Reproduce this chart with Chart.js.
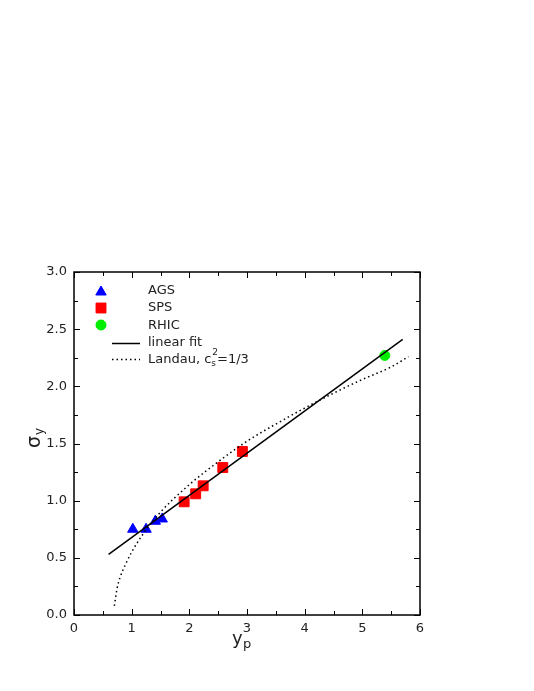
<!DOCTYPE html>
<html>
<head>
<meta charset="utf-8">
<script src="https://cdn.jsdelivr.net/npm/chart.js@4"></script>
<style>
  body { margin: 0; background: #fff; }
  #wrap { width: 534px; height: 691px; }
</style>
</head>
<body>
<div id="wrap"><canvas id="grafico"></canvas></div>
<script>
// data
const agsX = [1.02, 1.25, 1.41, 1.53];
const agsY = [0.75, 0.75, 0.82, 0.84];
const spsX = [1.91, 2.11, 2.24, 2.58, 2.92];
const spsY = [0.99, 1.06, 1.13, 1.29, 1.43];
const rhicX = [5.39];
const rhicY = [2.27];
const fitX = [0.6, 5.7];
const fitY = [0.53, 2.41];
const landauX = [0.7, 0.75, 0.8, 0.9, 1.0, 1.2, 1.5, 2.0, 2.5, 3.0, 3.5, 4.0, 4.5, 5.0, 5.5, 5.8];
const landauY = [0.08, 0.24, 0.33, 0.45, 0.55, 0.71, 0.90, 1.14, 1.34, 1.52, 1.67, 1.81, 1.94, 2.06, 2.17, 2.26];
const xTicks = [0, 1, 2, 3, 4, 5, 6];
const yTicks = [0.0, 0.5, 1.0, 1.5, 2.0, 2.5, 3.0];

const FONT = '"DejaVu Sans", sans-serif';
const pts = (xs, ys) => xs.map((x, i) => ({ x: x, y: ys[i] }));

// inward ticks on all four sides + frame, titles, legend
const frame = {
    id: 'frame',
    afterDraw(chart) {
        const ctx = chart.ctx;
        const a = chart.chartArea;
        const sx = chart.scales.x, sy = chart.scales.y;
        ctx.save();
        ctx.strokeStyle = '#000';
        ctx.lineWidth = 1.5;
        ctx.strokeRect(a.left, a.top, a.right - a.left, a.bottom - a.top);
        ctx.lineWidth = 1;
        ctx.beginPath();
        for (let v = 0; v <= 6.001; v += 0.5) {
            const p = Math.round(sx.getPixelForValue(v)) + 0.5;
            const len = (Math.abs(v - Math.round(v)) < 1e-6) ? 6 : 4;
            ctx.moveTo(p, a.bottom); ctx.lineTo(p, a.bottom - len);
            ctx.moveTo(p, a.top); ctx.lineTo(p, a.top + len);
        }
        for (let v = 0; v <= 3.001; v += 0.25) {
            const p = Math.round(sy.getPixelForValue(v)) + 0.5;
            const len = (Math.abs(v * 2 - Math.round(v * 2)) < 1e-6) ? 6 : 4;
            ctx.moveTo(a.left, p); ctx.lineTo(a.left + len, p);
            ctx.moveTo(a.right, p); ctx.lineTo(a.right - len, p);
        }
        ctx.stroke();

        // axis titles
        ctx.fillStyle = '#222';
        ctx.textBaseline = 'alphabetic';
        ctx.textAlign = 'left';
        ctx.font = '18px ' + FONT;
        ctx.fillText('y', 232, 644);
        ctx.font = '13px ' + FONT;
        ctx.fillText('p', 243, 648);
        ctx.save();
        ctx.translate(40, 448);
        ctx.rotate(-Math.PI / 2);
        ctx.font = '19px ' + FONT;
        ctx.fillText('σ', 0, 0);
        ctx.font = '12px ' + FONT;
        ctx.fillText('y', 13, 3);
        ctx.restore();

        // legend
        const H = Chart.helpers;
        const mk = (style, color, r, x, y) => {
            ctx.fillStyle = color; ctx.strokeStyle = color; ctx.lineWidth = 1;
            H.drawPoint(ctx, { pointStyle: style, radius: r, borderWidth: 1 }, x, y);
            ctx.fill();
        };
        mk('triangle', '#0000ff', 6, 101, 292);
        mk('rect', '#ff0000', 7, 101, 308);
        mk('circle', '#00ee00', 5, 101, 325);
        ctx.strokeStyle = '#000';
        ctx.lineWidth = 1.5;
        ctx.beginPath(); ctx.moveTo(112, 343.5); ctx.lineTo(140, 343.5); ctx.stroke();
        ctx.setLineDash([1.5, 3]);
        ctx.beginPath(); ctx.moveTo(112, 359.5); ctx.lineTo(140, 359.5); ctx.stroke();
        ctx.setLineDash([]);
        ctx.fillStyle = '#222';
        ctx.font = '13px ' + FONT;
        ctx.textBaseline = 'middle';
        ctx.fillText('AGS', 148, 291);
        ctx.fillText('SPS', 148, 308);
        ctx.fillText('RHIC', 148, 326);
        ctx.fillText('linear fit', 148, 343);
        let t = 'Landau, c';
        ctx.fillText(t, 148, 360);
        let w = 148 + ctx.measureText(t).width;
        ctx.font = '9px ' + FONT;
        ctx.fillText('s', w, 364);
        ctx.fillText('2', w + 1, 353);
        w += ctx.measureText('s').width + 1;
        ctx.font = '13px ' + FONT;
        ctx.fillText('=1/3', w, 360);
        ctx.restore();
    }
};

new Chart(document.getElementById('grafico'), {
    type: 'scatter',
    data: {
        datasets: [
            {
                label: 'linear fit', type: 'line', data: pts(fitX, fitY),
                borderColor: '#000', borderWidth: 1.5, pointRadius: 0, fill: false
            },
            {
                label: 'Landau', type: 'line', data: pts(landauX, landauY),
                borderColor: '#000', borderWidth: 1.5, borderDash: [1.5, 3], pointRadius: 0,
                cubicInterpolationMode: 'monotone', fill: false
            },
            {
                label: 'AGS', data: pts(agsX, agsY), pointStyle: 'triangle', pointRadius: 6,
                backgroundColor: '#0000ff', borderColor: '#0000ff', borderWidth: 1
            },
            {
                label: 'SPS', data: pts(spsX, spsY), pointStyle: 'rect', pointRadius: 7,
                backgroundColor: '#ff0000', borderColor: '#ff0000', borderWidth: 1
            },
            {
                label: 'RHIC', data: pts(rhicX, rhicY), pointStyle: 'circle', pointRadius: 5,
                backgroundColor: '#00ee00', borderColor: '#00ee00', borderWidth: 1
            }
        ]
    },
    options: {
        responsive: true,
        maintainAspectRatio: false,
        animation: false,
        layout: { padding: { left: 0, top: 272, right: 114, bottom: 0 } },
        plugins: { legend: { display: false }, tooltip: { enabled: false } },
        scales: {
            x: {
                type: 'linear', min: 0, max: 6,
                afterFit: s => { s.height = 76; },
                afterBuildTicks: s => { s.ticks = xTicks.map(v => ({ value: v })); },
                grid: { display: false, drawTicks: false },
                border: { display: false },
                ticks: { color: '#222', font: { family: FONT, size: 13 }, padding: 6, callback: v => v.toString() }
            },
            y: {
                type: 'linear', min: 0, max: 3,
                afterFit: s => { s.width = 74; },
                afterBuildTicks: s => { s.ticks = yTicks.map(v => ({ value: v })); },
                grid: { display: false, drawTicks: false },
                border: { display: false },
                ticks: { color: '#222', font: { family: FONT, size: 13 }, padding: 7, callback: v => v.toFixed(1) }
            }
        }
    },
    plugins: [frame]
});
</script>
</body>
</html>
